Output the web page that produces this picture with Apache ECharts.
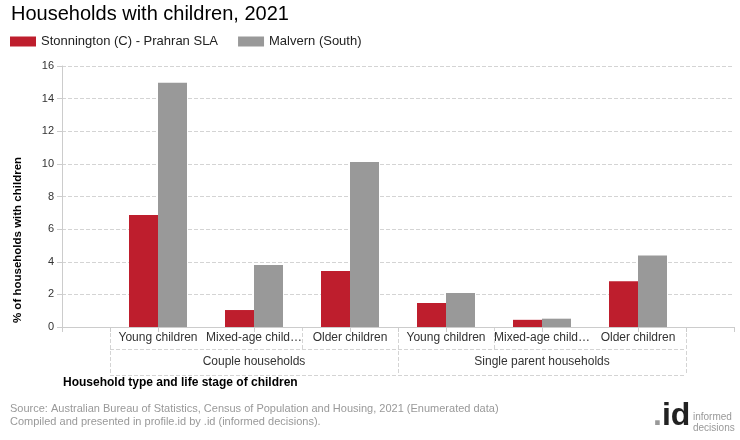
<!DOCTYPE html>
<html>
<head>
<meta charset="utf-8">
<script src="https://cdn.jsdelivr.net/npm/echarts@6/dist/echarts.min.js"></script>
<style>html,body{margin:0;padding:0;background:#fff}#c{width:740px;height:440px}</style>
</head>
<body>
<div id="c"></div>
<script>
var categories = ['Young children', 'Mixed-age child…', 'Older children', 'Young children', 'Mixed-age child…', 'Older children'];
var groups = ['Couple households', 'Single parent households'];
var seriesNames = ['Stonnington (C) - Prahran SLA', 'Malvern (South)'];
var stonnington = [6.87, 1.04, 3.44, 1.47, 0.44, 2.81];
var malvern = [14.97, 3.80, 10.12, 2.08, 0.51, 4.38];
var yTicks = [0, 2, 4, 6, 8, 10, 12, 14, 16];

var FONT = '"Liberation Sans", Arial, sans-serif';
var chart = echarts.init(document.getElementById('c'), null, {renderer: 'canvas'});
var padded = function (arr, fill) { return [fill].concat(arr).concat([fill]); };
var dashed = {show: true, lineStyle: {color: '#d4d4d4', type: [4, 2], width: 1}};
var hiddenY = function (gi) {
  return {gridIndex: gi, type: 'value', min: 0, max: 1, interval: 1,
          axisLine: {show: false}, axisTick: {show: false}, axisLabel: {show: false}, splitLine: dashed};
};

var option = {
  animation: false,
  backgroundColor: '#fff',
  textStyle: {fontFamily: FONT},
  title: [
    {text: 'Households with children, 2021', left: 11, top: 4, padding: 0,
     textStyle: {fontSize: 20, fontWeight: 'normal', color: '#000', fontFamily: FONT}},
    {text: 'Household type and life stage of children', left: 63, top: 377, padding: 0,
     textStyle: {fontSize: 12, fontWeight: 'bold', color: '#000', fontFamily: FONT}},
    {text: 'Source: Australian Bureau of Statistics, Census of Population and Housing, 2021 (Enumerated data)\nCompiled and presented in profile.id by .id (informed decisions).',
     left: 10, top: 402, padding: 0,
     textStyle: {fontSize: 11, fontWeight: 'normal', color: '#999', lineHeight: 13, fontFamily: FONT}}
  ],
  legend: {
    left: 10, top: 35, padding: 0, itemWidth: 26, itemHeight: 10, itemGap: 20, icon: 'rect',
    textStyle: {fontSize: 13, color: '#222', fontFamily: FONT},
    data: seriesNames
  },
  grid: [
    {left: 62, top: 66, width: 672, height: 261},
    {left: 110, top: 327, width: 576, height: 22},
    {left: 110, top: 327, width: 576, height: 48},
    {left: 110, top: 66, width: 576, height: 261}
  ],
  xAxis: [
    {gridIndex: 0, type: 'category', boundaryGap: false, data: padded(categories, ''),
     axisLine: {lineStyle: {color: '#ccc', width: 1}},
     axisTick: {show: true, length: 5, lineStyle: {color: '#ccc'}},
     axisLabel: {fontSize: 12, color: '#333', margin: 5, interval: 0, fontFamily: FONT},
     splitLine: {show: false}},
    {gridIndex: 1, type: 'category', boundaryGap: true, data: categories,
     axisLine: {show: false}, axisTick: {show: false}, axisLabel: {show: false},
     splitLine: dashed},
    {gridIndex: 2, type: 'category', boundaryGap: true, data: groups, position: 'top',
     axisLine: {show: false}, axisTick: {show: false},
     axisLabel: {inside: true, margin: 29, fontSize: 12, color: '#333', fontFamily: FONT},
     splitLine: dashed},
    {gridIndex: 3, type: 'category', boundaryGap: true, data: groups, position: 'bottom',
     axisLine: {show: false},
     axisTick: {show: true, length: 5, lineStyle: {color: '#ccc'}},
     axisLabel: {show: false}, splitLine: {show: false}}
  ],
  yAxis: [
    {gridIndex: 0, type: 'value', min: yTicks[0], max: yTicks[yTicks.length - 1], interval: 2,
     axisLine: {show: true, lineStyle: {color: '#ccc'}},
     axisTick: {show: true, length: 5, lineStyle: {color: '#ccc'}},
     axisLabel: {fontSize: 11, color: '#333', margin: 8, fontFamily: FONT},
     splitLine: dashed},
    hiddenY(1),
    hiddenY(2),
    {gridIndex: 3, type: 'value', min: 0, max: 1, show: false}
  ],
  series: [
    {name: seriesNames[0], type: 'bar', xAxisIndex: 0, yAxisIndex: 0, barWidth: 29, barGap: '0%',
     itemStyle: {color: '#BE1E2D'}, data: padded(stonnington, null)},
    {name: seriesNames[1], type: 'bar', xAxisIndex: 0, yAxisIndex: 0, barWidth: 29, barGap: '0%',
     itemStyle: {color: '#999999'}, data: padded(malvern, null)}
  ],
  graphic: [
    {type: 'text', x: 18, y: 240, rotation: Math.PI / 2,
     style: {text: '% of households with children', fontSize: 11.5, fontWeight: 'bold', fill: '#000',
             fontFamily: FONT, align: 'center', verticalAlign: 'middle'}},
    {type: 'text', x: 653, y: 400,
     style: {text: '{a|.}{b|id}', fontFamily: FONT,
             rich: {a: {fontSize: 32, fontWeight: 'bold', fill: '#999', fontFamily: FONT},
                    b: {fontSize: 32, fontWeight: 'bold', fill: '#222', fontFamily: FONT}}}},
    {type: 'text', x: 693, y: 412,
     style: {text: 'informed\ndecisions', fontSize: 10, fill: '#999', lineHeight: 10.5, fontFamily: FONT}}
  ]
};
chart.setOption(option);
</script>
</body>
</html>
